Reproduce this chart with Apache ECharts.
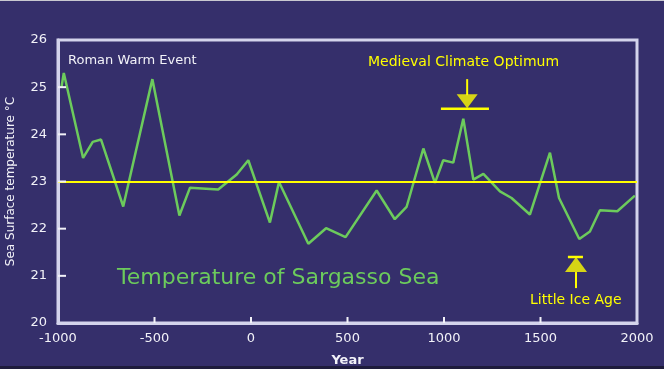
<!DOCTYPE html>
<html>
<head>
<meta charset="utf-8">
<script src="https://cdn.jsdelivr.net/npm/echarts@6/dist/echarts.min.js"></script>
<style>
html,body{margin:0;padding:0;background:#352f6b;}
#c{width:664px;height:369px;}
</style>
</head>
<body>
<div id="c"></div>
<script>
// ---- data ----
var years = [-982, -970, -870, -820, -777, -662, -511, -371, -316, -170, -74, -14, 98, 145, 297, 389, 490, 651, 745, 806, 893, 953, 996, 1048, 1100, 1152, 1204, 1290, 1350, 1445, 1549, 1596, 1701, 1756, 1808, 1898, 1989];
var temps = [25.0, 25.3, 23.5, 23.84, 23.89, 22.47, 25.17, 22.28, 22.87, 22.83, 23.15, 23.45, 22.13, 22.99, 21.68, 22.01, 21.82, 22.81, 22.2, 22.46, 23.7, 22.97, 23.45, 23.4, 24.33, 23.04, 23.16, 22.79, 22.65, 22.3, 23.61, 22.65, 21.78, 21.94, 22.39, 22.37, 22.7];
var referenceLevel = 23;
var xTicks = [-1000, -500, 0, 500, 1000, 1500, 2000];
var yTicks = [20, 21, 22, 23, 24, 25, 26];
var labels = {
  roman: 'Roman Warm Event',
  medieval: 'Medieval Climate Optimum',
  lia: 'Little Ice Age',
  title: 'Temperature of Sargasso Sea',
  xName: 'Year',
  yName: 'Sea Surface temperature \u00b0C'
};
// annotation arrow anchors (year, temperature)
var medievalArrow = {x: 1120, stemTop: 25.17, stemBottom: 24.83, tri: 24.70, bar: 24.54, barFrom: 984, barTo: 1233};
var liaArrow = {x: 1684, stemTop: 21.08, stemBottom: 20.74, tri: 21.24, bar: 21.40, barFrom: 1642, barTo: 1720};

var xMin = xTicks[0], xMax = xTicks[xTicks.length - 1];
var yMin = yTicks[0], yMax = yTicks[yTicks.length - 1];
var seriesData = years.map(function (y, i) { return [y, temps[i]]; });
var font = 'DejaVu Sans';
var yellow = '#ffff00';
var white = '#f2f2f8';
var frame = '#d4d4ec';

var baseGraphic = [
  {id: 'topEdge', type: 'rect', left: 0, top: 0, shape: {width: 664, height: 1}, style: {fill: '#c8c8d0'}},
  {id: 'bottomEdge', type: 'rect', left: 0, top: 366, shape: {width: 664, height: 3}, style: {fill: '#1e1c3c'}},
  {id: 'roman', type: 'text', left: 68, top: 54, style: {text: labels.roman, fill: white, font: '13px "DejaVu Sans"'}},
  {id: 'medieval', type: 'text', left: 368, top: 55, style: {text: labels.medieval, fill: yellow, font: '14px "DejaVu Sans"'}},
  {id: 'title', type: 'text', left: 117, top: 267, style: {text: labels.title, fill: '#6ccb5c', font: '22px "DejaVu Sans"'}},
  {id: 'lia', type: 'text', left: 530, top: 293, style: {text: labels.lia, fill: yellow, font: '14px "DejaVu Sans"'}}
];

var chart = echarts.init(document.getElementById('c'));
chart.setOption({
  backgroundColor: '#352f6b',
  animation: false,
  grid: {
    left: 58, right: 27, top: 40, bottom: 46, outerBoundsMode: 'none', containLabel: false,
    show: true, borderColor: frame, borderWidth: 3, backgroundColor: 'transparent'
  },
  xAxis: {
    type: 'value', min: xMin, max: xMax, interval: 500,
    name: labels.xName, nameLocation: 'middle', nameGap: 31,
    nameTextStyle: {color: white, fontFamily: font, fontSize: 13, fontWeight: 'bold'},
    axisLine: {show: true, onZero: false, lineStyle: {color: frame, width: 3}},
    axisTick: {show: false},
    axisLabel: {color: white, fontFamily: font, fontSize: 13, margin: 9,
      formatter: function (v) { return String(v); }},
    splitLine: {show: false}
  },
  yAxis: {
    type: 'value', min: yMin, max: yMax, interval: 1,
    name: labels.yName, nameLocation: 'middle', nameGap: 41,
    nameTextStyle: {color: white, fontFamily: font, fontSize: 12},
    axisLine: {show: true, onZero: false, lineStyle: {color: frame, width: 3}},
    axisTick: {show: false},
    axisLabel: {color: white, fontFamily: font, fontSize: 13, margin: 11,
      formatter: function (v) { return String(v); }},
    splitLine: {show: false}
  },
  graphic: baseGraphic,
  series: [
    {
      type: 'line', data: seriesData, symbol: 'none', z: 3,
      lineStyle: {color: '#6ccb5c', width: 2.5}
    },
    {
      type: 'line', data: [], z: 4, silent: true,
      markLine: {
        silent: true, symbol: ['none', 'none'], label: {show: false},
        lineStyle: {color: yellow, width: 2, type: 'solid'},
        data: [{yAxis: referenceLevel}]
      }
    },
    // Medieval arrow
    {type: 'line', z: 5, silent: true, symbol: 'none', lineStyle: {color: yellow, width: 2},
      data: [[medievalArrow.x, medievalArrow.stemTop], [medievalArrow.x, medievalArrow.stemBottom]]},
    {type: 'line', z: 5, silent: true, symbol: 'none', lineStyle: {color: yellow, width: 2.5},
      data: [[medievalArrow.barFrom, medievalArrow.bar], [medievalArrow.barTo, medievalArrow.bar]]},
    {type: 'scatter', z: 5, silent: true, symbol: 'triangle', symbolSize: [21, 14], symbolRotate: 180,
      itemStyle: {color: yellow}, data: [[medievalArrow.x, medievalArrow.tri]]},
    // Little Ice Age arrow
    {type: 'line', z: 5, silent: true, symbol: 'none', lineStyle: {color: yellow, width: 2},
      data: [[liaArrow.x, liaArrow.stemTop], [liaArrow.x, liaArrow.stemBottom]]},
    {type: 'line', z: 5, silent: true, symbol: 'none', lineStyle: {color: yellow, width: 2.5},
      data: [[liaArrow.barFrom, liaArrow.bar], [liaArrow.barTo, liaArrow.bar]]},
    {type: 'scatter', z: 5, silent: true, symbol: 'triangle', symbolSize: [22, 15],
      itemStyle: {color: yellow}, data: [[liaArrow.x, liaArrow.tri]]}
  ]
});

// inside tick marks, placed through the axes' own scales
var tickGraphic = [];
yTicks.slice(1, -1).forEach(function (v, i) {
  var p = chart.convertToPixel({gridIndex: 0}, [xMin, v]);
  tickGraphic.push({id: 'yt' + i, type: 'line', z: 100,
    shape: {x1: p[0], y1: p[1], x2: p[0] + 8, y2: p[1]},
    style: {stroke: white, lineWidth: 2}});
});
xTicks.slice(1, -1).forEach(function (v, i) {
  var p = chart.convertToPixel({gridIndex: 0}, [v, yMin]);
  tickGraphic.push({id: 'xt' + i, type: 'line', z: 100,
    shape: {x1: p[0], y1: p[1], x2: p[0], y2: p[1] - 6},
    style: {stroke: white, lineWidth: 2}});
});
chart.setOption({graphic: baseGraphic.concat(tickGraphic)});
</script>
</body>
</html>
